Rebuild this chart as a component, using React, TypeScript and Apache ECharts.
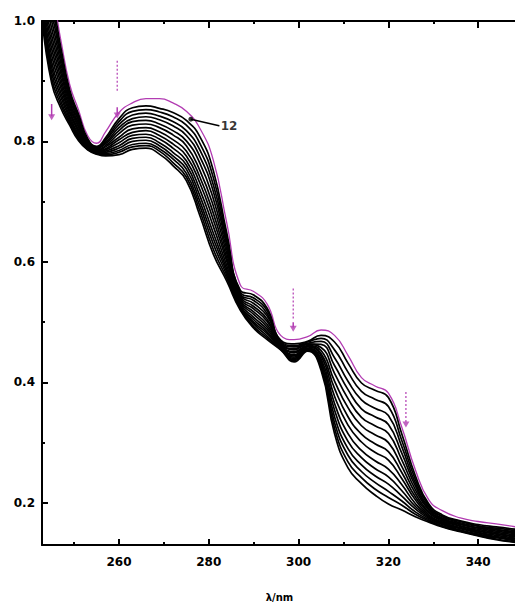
import React, { useEffect, useRef } from 'react';
import * as echarts from 'echarts';

// wavelength grid (nm)
const wavelengths = [243, 245, 247, 249, 251, 253, 255, 257, 260, 263, 266, 269, 272, 275, 278, 281, 284, 287, 290, 293, 296, 299, 302, 305, 308, 311, 314, 317, 320, 323, 326, 329, 332, 336, 340, 344, 348.5];

// magenta (first) spectrum
const curveMagenta = [1.09, 1.05, 0.970, 0.895, 0.852, 0.810, 0.797, 0.816, 0.848, 0.864, 0.871, 0.871, 0.864, 0.850, 0.822, 0.769, 0.665, 0.562, 0.551, 0.530, 0.478, 0.471, 0.476, 0.487, 0.478, 0.445, 0.408, 0.394, 0.382, 0.325, 0.255, 0.205, 0.187, 0.175, 0.169, 0.165, 0.160];

// black spectra, from top to bottom
const curve01 = [1.075, 1.035, 0.958, 0.886, 0.845, 0.805, 0.792, 0.806, 0.838, 0.856, 0.859, 0.855, 0.848, 0.835, 0.808, 0.752, 0.648, 0.553, 0.545, 0.523, 0.470, 0.464, 0.468, 0.478, 0.467, 0.432, 0.399, 0.387, 0.375, 0.314, 0.245, 0.198, 0.180, 0.170, 0.164, 0.160, 0.156];
const curve02 = [1.068, 1.023, 0.949, 0.881, 0.841, 0.803, 0.791, 0.803, 0.833, 0.850, 0.853, 0.849, 0.841, 0.827, 0.797, 0.740, 0.641, 0.550, 0.540, 0.519, 0.469, 0.461, 0.467, 0.473, 0.454, 0.417, 0.385, 0.372, 0.360, 0.303, 0.239, 0.195, 0.178, 0.169, 0.162, 0.158, 0.154];
const curve03 = [1.061, 1.012, 0.941, 0.876, 0.838, 0.802, 0.790, 0.801, 0.828, 0.844, 0.847, 0.842, 0.833, 0.818, 0.786, 0.728, 0.634, 0.547, 0.536, 0.514, 0.467, 0.459, 0.465, 0.468, 0.441, 0.402, 0.371, 0.357, 0.345, 0.293, 0.233, 0.193, 0.177, 0.167, 0.161, 0.156, 0.152];
const curve04 = [1.055, 1.000, 0.932, 0.871, 0.834, 0.800, 0.789, 0.798, 0.823, 0.838, 0.841, 0.836, 0.826, 0.810, 0.775, 0.717, 0.628, 0.545, 0.531, 0.510, 0.466, 0.456, 0.464, 0.463, 0.428, 0.388, 0.356, 0.343, 0.330, 0.282, 0.228, 0.190, 0.175, 0.165, 0.159, 0.155, 0.150];
const curve05 = [1.048, 0.988, 0.923, 0.866, 0.830, 0.799, 0.788, 0.796, 0.818, 0.833, 0.835, 0.829, 0.818, 0.801, 0.764, 0.705, 0.621, 0.542, 0.526, 0.505, 0.465, 0.454, 0.463, 0.458, 0.415, 0.373, 0.342, 0.328, 0.315, 0.271, 0.222, 0.188, 0.173, 0.164, 0.158, 0.153, 0.149];
const curve06 = [1.041, 0.976, 0.915, 0.861, 0.826, 0.797, 0.786, 0.793, 0.813, 0.827, 0.829, 0.823, 0.811, 0.793, 0.752, 0.693, 0.614, 0.539, 0.522, 0.501, 0.463, 0.451, 0.461, 0.453, 0.402, 0.358, 0.328, 0.313, 0.300, 0.260, 0.216, 0.185, 0.172, 0.162, 0.156, 0.151, 0.147];
const curve07 = [1.034, 0.965, 0.906, 0.856, 0.823, 0.795, 0.785, 0.791, 0.807, 0.821, 0.823, 0.816, 0.803, 0.784, 0.741, 0.681, 0.607, 0.536, 0.517, 0.496, 0.462, 0.449, 0.460, 0.448, 0.390, 0.343, 0.314, 0.298, 0.285, 0.250, 0.210, 0.183, 0.170, 0.161, 0.154, 0.149, 0.145];
const curve08 = [1.028, 0.954, 0.898, 0.851, 0.819, 0.794, 0.784, 0.788, 0.803, 0.815, 0.818, 0.810, 0.796, 0.776, 0.731, 0.670, 0.601, 0.534, 0.513, 0.492, 0.461, 0.446, 0.459, 0.444, 0.377, 0.329, 0.301, 0.284, 0.271, 0.240, 0.205, 0.180, 0.168, 0.159, 0.153, 0.148, 0.143];
const curve09 = [1.021, 0.943, 0.890, 0.847, 0.816, 0.792, 0.783, 0.786, 0.798, 0.810, 0.812, 0.804, 0.789, 0.768, 0.720, 0.659, 0.594, 0.531, 0.508, 0.488, 0.459, 0.444, 0.457, 0.439, 0.365, 0.315, 0.287, 0.270, 0.256, 0.230, 0.199, 0.178, 0.167, 0.158, 0.151, 0.146, 0.141];
const curve10 = [1.015, 0.932, 0.882, 0.842, 0.812, 0.791, 0.782, 0.784, 0.793, 0.805, 0.807, 0.798, 0.782, 0.761, 0.710, 0.648, 0.588, 0.528, 0.504, 0.484, 0.458, 0.442, 0.456, 0.435, 0.354, 0.302, 0.275, 0.257, 0.243, 0.220, 0.194, 0.176, 0.165, 0.157, 0.150, 0.144, 0.140];
const curve11 = [1.010, 0.923, 0.875, 0.838, 0.809, 0.790, 0.781, 0.782, 0.789, 0.800, 0.802, 0.793, 0.776, 0.754, 0.701, 0.639, 0.583, 0.526, 0.500, 0.481, 0.457, 0.440, 0.455, 0.431, 0.343, 0.290, 0.263, 0.245, 0.231, 0.211, 0.190, 0.174, 0.164, 0.155, 0.148, 0.143, 0.138];
const curve12 = [1.005, 0.914, 0.868, 0.834, 0.806, 0.788, 0.781, 0.780, 0.785, 0.795, 0.797, 0.788, 0.771, 0.747, 0.693, 0.630, 0.578, 0.524, 0.497, 0.477, 0.456, 0.438, 0.454, 0.427, 0.333, 0.279, 0.252, 0.234, 0.219, 0.203, 0.185, 0.172, 0.162, 0.154, 0.147, 0.142, 0.137];
const curve13 = [1.000, 0.905, 0.862, 0.831, 0.804, 0.787, 0.780, 0.778, 0.782, 0.791, 0.793, 0.784, 0.765, 0.741, 0.685, 0.621, 0.573, 0.522, 0.493, 0.474, 0.455, 0.436, 0.453, 0.424, 0.324, 0.268, 0.242, 0.223, 0.209, 0.196, 0.181, 0.170, 0.161, 0.153, 0.146, 0.140, 0.135];
const curve14 = [0.995, 0.897, 0.856, 0.827, 0.801, 0.786, 0.779, 0.776, 0.778, 0.787, 0.789, 0.779, 0.760, 0.735, 0.677, 0.613, 0.568, 0.520, 0.490, 0.471, 0.454, 0.434, 0.452, 0.420, 0.315, 0.258, 0.232, 0.213, 0.198, 0.188, 0.177, 0.168, 0.160, 0.152, 0.145, 0.139, 0.134];

const blackCurves = [curve01, curve02, curve03, curve04, curve05, curve06, curve07, curve08, curve09, curve10, curve11, curve12, curve13, curve14];

// axes
const xLabelValues = [260, 280, 300, 320, 340];
const xMinorValues = [250, 270, 290, 310, 330];
const yLabelValues = [0.2, 0.4, 0.6, 0.8, 1.0];
const yMinorValues = [0.3, 0.5, 0.7, 0.9];
const xAxisName = 'λ/nm';

// annotations (data coordinates)
const arrowDotted = [
  [[259.6, 0.934], [259.6, 0.882]],
  [[298.8, 0.556], [298.8, 0.505]],
  [[323.9, 0.384], [323.9, 0.333]],
];
const arrowStems = [
  [[245.0, 0.862], [245.0, 0.842]],
  [[259.6, 0.857], [259.6, 0.846]],
  [[298.8, 0.500], [298.8, 0.491]],
];
const arrowHeads = [[245.0, 0.840], [259.6, 0.843], [298.8, 0.489], [323.9, 0.330]];
const pointerLine = [[276.0, 0.837], [282.3, 0.826]];
const pointerLabel = '12';

export default function App() {
  const ref = useRef<HTMLDivElement>(null);
  useEffect(() => {
    const chart = echarts.init(ref.current as HTMLDivElement, null, { renderer: 'svg' });
    const MAG = '#b23cb2';
    const X_MIN = 242.85;
    const X_MAX = 348.64;
    const Y_MIN = 0.13;
    const Y_MAX = 1.0;
    const font = { fontFamily: 'DejaVu Sans', fontWeight: 'bold' as const, fontSize: 12, color: '#000' };
    const axLine = { show: true, lineStyle: { color: '#000', width: 2 } };
    const tick = (vals: number[], len: number) => ({
      show: true, inside: true, length: len, customValues: vals,
      lineStyle: { color: '#000', width: 2 },
    });
    const xBase = { type: 'value', min: X_MIN, max: X_MAX, splitLine: { show: false } };
    const yBase = { type: 'value', min: Y_MIN, max: Y_MAX, splitLine: { show: false } };

    const series: any[] = [];
    series.push({
      type: 'line', data: wavelengths.map((x, i) => [x, curveMagenta[i]]),
      showSymbol: false, smooth: 0.5, z: 2,
      lineStyle: { color: MAG, width: 1.3 }, silent: true,
    });
    blackCurves.forEach((c) => {
      series.push({
        type: 'line', data: wavelengths.map((x, i) => [x, c[i]]),
        showSymbol: false, smooth: 0.5, z: 3,
        lineStyle: { color: '#000', width: 1.7 }, silent: true,
      });
    });
    arrowDotted.forEach((seg) => {
      series.push({
        type: 'line', data: seg, showSymbol: false, z: 4, silent: true,
        lineStyle: { color: MAG, width: 1.2, type: [2, 2] },
      });
    });
    arrowStems.forEach((seg) => {
      series.push({
        type: 'line', data: seg, showSymbol: false, z: 4, silent: true,
        lineStyle: { color: MAG, width: 1.5 },
      });
    });
    series.push({
      type: 'scatter', data: arrowHeads, symbol: 'triangle', symbolRotate: 180,
      symbolSize: [7, 6], itemStyle: { color: MAG }, z: 5, silent: true,
    });
    series.push({
      type: 'line', z: 6, silent: true, data: pointerLine, showSymbol: false,
      lineStyle: { color: '#000', width: 1.5 },
    });
    series.push({
      type: 'scatter', z: 7, silent: true, data: [pointerLine[0]],
      symbol: 'circle', symbolSize: 5, itemStyle: { color: '#000' },
    });
    series.push({
      type: 'scatter', z: 7, silent: true, data: [pointerLine[1]],
      symbol: 'circle', symbolSize: 1, itemStyle: { color: '#000' },
      label: { show: true, position: 'right', distance: 1, formatter: pointerLabel, ...font },
    });

    chart.setOption({
      animation: false,
      backgroundColor: '#fff',
      grid: { left: 42, top: 21, width: 475, height: 524, containLabel: false, outerBoundsMode: 'none' },
      xAxis: [
        {
          ...xBase, position: 'bottom', axisLine: axLine, axisTick: tick(xLabelValues, 6),
          axisLabel: { customValues: xLabelValues, margin: 11, ...font },
          name: xAxisName, nameLocation: 'middle', nameGap: 47,
          nameTextStyle: { ...font, fontSize: 10 },
        },
        { ...xBase, position: 'bottom', axisLine: { show: false }, axisTick: tick(xMinorValues, 3), axisLabel: { show: false } },
        { ...xBase, position: 'top', axisLine: axLine, axisTick: tick(xLabelValues, 7), axisLabel: { show: false } },
        { ...xBase, position: 'top', axisLine: { show: false }, axisTick: tick(xMinorValues, 3), axisLabel: { show: false } },
      ],
      yAxis: [
        {
          ...yBase, position: 'left', axisLine: axLine, axisTick: tick(yLabelValues, 6),
          axisLabel: { customValues: yLabelValues, margin: 7, formatter: (v: number) => v.toFixed(1), ...font },
        },
        { ...yBase, position: 'left', axisLine: { show: false }, axisTick: tick(yMinorValues, 3), axisLabel: { show: false } },
      ],
      series: series.map((s) => ({ ...s, xAxisIndex: 0, yAxisIndex: 0 })),
    });
    return () => chart.dispose();
  }, []);
  return <div ref={ref} style={{ position: 'absolute', left: 0, top: 0, width: 515, height: 604, background: '#fff' }} />;
}
